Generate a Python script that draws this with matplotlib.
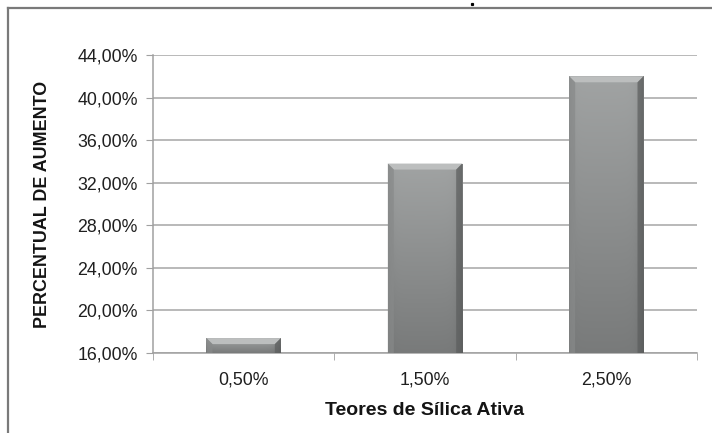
import numpy as np
import matplotlib.pyplot as plt
from matplotlib.patches import Polygon
from matplotlib.lines import Line2D

teores = ['0,50%', '1,50%', '2,50%']
aumento = [17.4, 33.8, 42.0]
y_ticks = [16, 20, 24, 28, 32, 36, 40, 44]
y_labels = ['16,00%', '20,00%', '24,00%', '28,00%', '32,00%', '36,00%', '40,00%', '44,00%']

plt.rcParams['font.family'] = ['Liberation Sans', 'DejaVu Sans']

fig = plt.figure(figsize=(7.12, 4.33), dpi=100)
ax = fig.add_axes([153 / 712, 1 - 353 / 433, 544 / 712, 298 / 433])

x = np.arange(len(teores))
base = y_ticks[0]
bars = ax.bar(x, np.array(aumento) - base, bottom=base, width=0.41,
              color='none', edgecolor='none', zorder=3)

ax.set_xlim(-0.5, len(teores) - 0.5)
ax.set_ylim(y_ticks[0], y_ticks[-1])

# size of one pixel in data units, for the bevel widths
px_x = (ax.get_xlim()[1] - ax.get_xlim()[0]) / 544
px_y = (ax.get_ylim()[1] - ax.get_ylim()[0]) / 298

# shaded fill for every bar: lighter at the top, darker near the edges
for b in bars:
    x0, y0 = b.get_x(), b.get_y()
    w, h = b.get_width(), b.get_height()
    t = np.linspace(0, 1, 120)[:, None]
    s = np.linspace(0, 1, 80)[None, :]
    shade = 0.64 - 0.16 * t
    edge = 1 - 0.22 * np.exp(-(1 - s) / 0.05) - 0.10 * np.exp(-s / 0.04)
    img = np.clip(shade * edge, 0, 1)
    rgb = np.dstack([img * 0.985, img, img])
    im = ax.imshow(rgb, extent=[x0, x0 + w, y0, y0 + h], aspect='auto',
                   zorder=3, interpolation='bilinear')
    im.set_clip_path(b)

    bx, by = 6 * px_x, 6 * px_y
    x1, y1 = x0 + w, y0 + h
    ax.add_patch(Polygon([(x0, y1), (x1, y1), (x1 - bx, y1 - by), (x0 + bx, y1 - by)],
                         closed=True, facecolor='#bcbebe', edgecolor='none', zorder=4))
    ax.add_patch(Polygon([(x0, y1), (x0 + bx, y1 - by), (x0 + bx, y0), (x0, y0)],
                         closed=True, facecolor='#888a8a', edgecolor='none', zorder=4, alpha=0.7))
    ax.add_patch(Polygon([(x1, y1), (x1 - bx, y1 - by), (x1 - bx, y0), (x1, y0)],
                         closed=True, facecolor='#5c5e5e', edgecolor='none', zorder=4, alpha=0.7))

ax.set_yticks(y_ticks)
ax.set_yticklabels(y_labels)
ax.set_xticks(x)
ax.set_xticklabels(teores)
ax.set_xticks(np.arange(len(teores) + 1) - 0.5, minor=True)

ax.grid(axis='y', color='#a6a6a6', linewidth=1.1, zorder=0)
ax.set_axisbelow(True)
for side in ['top', 'right']:
    ax.spines[side].set_visible(False)
for side in ['left', 'bottom']:
    ax.spines[side].set_color('#a0a0a0')
    ax.spines[side].set_linewidth(1.1)

ax.tick_params(axis='y', which='major', direction='out', length=5, color='#a0a0a0',
               labelsize=12.8, labelcolor='#1f1f1f', pad=6)
ax.tick_params(axis='x', which='major', length=0, labelsize=12.8,
               labelcolor='#1f1f1f', pad=13)
ax.tick_params(axis='x', which='minor', direction='out', length=5, color='#a0a0a0')

ax.set_ylabel('PERCENTUAL DE AUMENTO', fontsize=12.9, fontweight='bold',
              color='#141414')
ax.set_xlabel('Teores de Sílica Ativa', fontsize=14, fontweight='bold',
              color='#141414', labelpad=10)
ax.yaxis.set_label_coords(-(153 - 51) / 544, 0.5)

# outer frame around the chart area
fig.add_artist(Line2D([8 / 712, 1], [1 - 8 / 433, 1 - 8 / 433], transform=fig.transFigure,
                      color='#7a7a7a', linewidth=1.6))
fig.add_artist(Line2D([8 / 712, 8 / 712], [0, 1 - 8 / 433], transform=fig.transFigure,
                      color='#7a7a7a', linewidth=1.6))
fig.add_artist(Line2D([472 / 712], [1 - 4 / 433], transform=fig.transFigure,
                      marker='s', markersize=1.3, color='black', linestyle='none'))

fig.savefig('out.png', dpi=100)
